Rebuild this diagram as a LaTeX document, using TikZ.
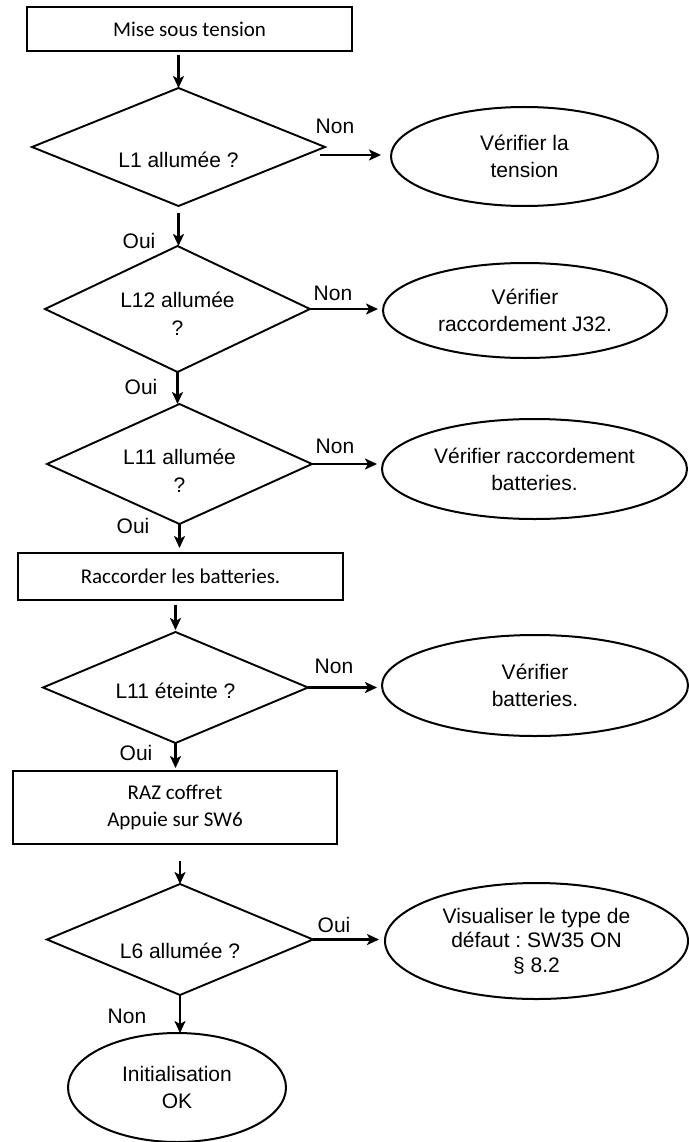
\documentclass[tikz,border=0pt]{standalone}
\usepackage{fontspec}
\setmainfont{Liberation Sans}
\newfontfamily\calibfont{Carlito}
\usetikzlibrary{shapes.geometric,arrows.meta}
\frenchspacing
\begin{document}
\begin{tikzpicture}[x=1pt,y=-1pt,
  every node/.style={inner sep=0pt, outer sep=0pt},
  boxn/.style={draw, line width=2pt, rectangle, font=\calibfont\fontsize{21}{27}\selectfont, align=center},
  dia/.style={draw, line width=1.9pt, diamond, inner sep=0pt},
  ell/.style={draw, line width=2pt, ellipse, font=\fontsize{21}{27}\selectfont, align=center},
  txt/.style={font=\fontsize{21}{28}\selectfont, align=center},
  lbl/.style={font=\fontsize{21}{25}\selectfont},
  arr/.style={line width=2.3pt, -{Stealth[length=12pt,width=11pt,inset=3pt]}}
]
\useasboundingbox (0,0) rectangle (688,1142);

% process boxes
\node[boxn, minimum width=325pt, minimum height=44pt] (b1) at (189.5,29) {Mise sous tension};
\node[boxn, minimum width=325pt, minimum height=47pt] (b2) at (180.5,576.5) {Raccorder les batteries.};
\node[boxn, minimum width=324pt, minimum height=73pt] (b3) at (175,807.5) {RAZ coffret\\Appuie sur SW6};

% decisions
\node[dia, minimum width=293pt, minimum height=118pt,
  label={[txt, name=t1, yshift=-13pt]center:L1 allumée ?}] (d1) at (178.5,147) {};
\node[dia, minimum width=265pt, minimum height=126pt,
  label={[txt, name=t2, yshift=-4.5pt]center:{L12 allumée\\?}}] (d2) at (177.5,309) {};
\node[dia, minimum width=265pt, minimum height=120pt,
  label={[txt, name=t3, yshift=-6.5pt]center:{L11 allumée\\?}}] (d3) at (179.5,464) {};
\node[dia, minimum width=265pt, minimum height=111pt,
  label={[txt, name=t4, yshift=-3pt]center:L11 éteinte ?}] (d4) at (175.5,687.5) {};
\node[dia, minimum width=266pt, minimum height=111pt,
  label={[txt, name=t5, yshift=-11.5pt]center:L6 allumée ?}] (d5) at (180,939.5) {};

% terminals
\node[ell, minimum width=267pt, minimum height=99pt] (e1) at (524.5,156.5) {Vérifier la\\tension};
\node[ell, minimum width=284pt, minimum height=95pt] (e2) at (525,310.5) {Vérifier\\raccordement J32.};
\node[ell, minimum width=305pt, minimum height=100pt] (e3) at (534.5,469) {Vérifier raccordement\\batteries.};
\node[ell, minimum width=306pt, minimum height=101pt] (e4) at (535,685.5) {Vérifier\\batteries.};
\node[ell, minimum width=303pt, minimum height=116pt, font=\fontsize{21}{24.5}\selectfont] (e5) at (536.5,941) {Visualiser le type de\\défaut : SW35 ON\\§ 8.2};
\node[ell, minimum width=218pt, minimum height=109pt] (e6) at (177,1087.5) {Initialisation\\OK};

% vertical connectors
\draw[arr] ([yshift=-4pt]b1.south -| d1.north) -- (d1.north);
\draw[arr] ([yshift=-7pt]d1.south) -- (d1.south |- d2.north);
\draw[arr] (d2.south) -- (d2.south |- d3.north);
\draw[arr, shorten >=5pt] (d3.south) -- (d3.south |- b2.north);
\draw[arr, shorten >=2pt] ([yshift=-5pt]b2.south -| d4.north) -- (d4.north);
\draw[arr, shorten >=3pt] (d4.south) -- (d4.south |- b3.north);
\draw[arr] ([yshift=-17pt]b3.south -| d5.north) -- (d5.north);
\draw[arr] (d5.south) -- (d5.south |- e6.north);

% horizontal connectors
\draw[arr, shorten >=5pt] ([shift={(-5pt,-8pt)}]d1.east) -- ([shift={(-5pt,-8pt)}]d1.east -| e1.west);
\draw[arr, shorten >=5pt] (d2.east) -- (d2.east -| e2.west);
\draw[arr, shorten >=5pt] (d3.east) -- (d3.east -| e3.west);
\draw[arr, shorten >=5pt] (d4.east) -- (d4.east -| e4.west);
\draw[arr, shorten >=6pt] (d5.east) -- (d5.east -| e5.west);

% connector labels
\node[lbl] (n1) at (335,126) {Non};
\node[lbl] (o1) at (139,241) {Oui};
\node[lbl] (n2) at (333,293) {Non};
\node[lbl] (o2) at (141,387) {Oui};
\node[lbl] (n3) at (335,446) {Non};
\node[lbl] (o3) at (133,526) {Oui};
\node[lbl] (n4) at (334,666) {Non};
\node[lbl] (o4) at (136,753) {Oui};
\node[lbl] (o5) at (334,925) {Oui};
\node[lbl] (n5) at (127,1016) {Non};
\end{tikzpicture}
\end{document}
